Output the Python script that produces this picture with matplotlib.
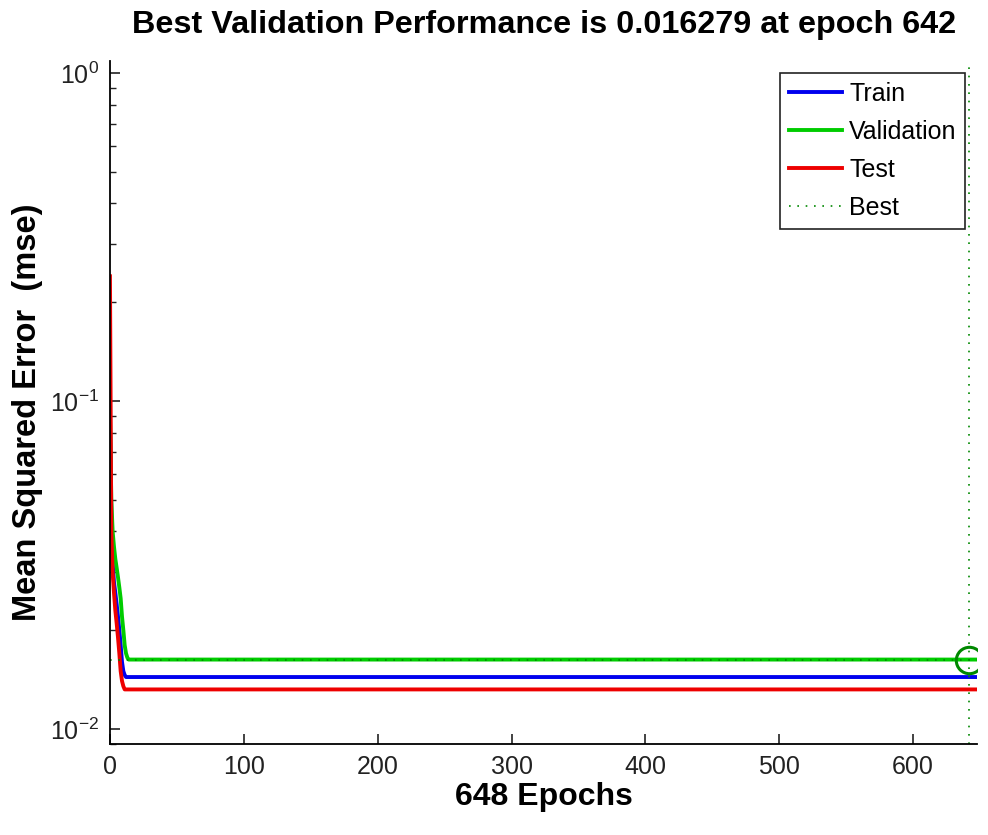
import matplotlib
matplotlib.use("Agg")
import matplotlib.pyplot as plt
from matplotlib.ticker import LogLocator, NullFormatter

plt.rcParams["font.family"] = ["Liberation Sans", "DejaVu Sans"]
plt.rcParams["mathtext.fontset"] = "custom"
plt.rcParams["mathtext.rm"] = "Liberation Sans"

# training record (epoch -> mse), flat after the first few epochs
train_epochs = [0, 1, 2, 3, 4, 5, 6, 7, 8, 9, 10, 11, 12, 648]
train_mse = [0.085, 0.045, 0.032, 0.028, 0.026, 0.024, 0.022, 0.020,
             0.018, 0.016, 0.015, 0.0146, 0.0144, 0.0144]

val_epochs = [0, 1, 2, 3, 4, 5, 6, 7, 8, 9, 10, 11, 12, 13, 14, 648]
val_mse = [0.093, 0.050, 0.040, 0.036, 0.033, 0.031, 0.029, 0.027,
           0.025, 0.022, 0.020, 0.018, 0.017, 0.0165, 0.016279, 0.016279]

test_epochs = [0, 1, 2, 3, 4, 5, 6, 7, 8, 9, 10, 11, 648]
test_mse = [0.24, 0.040, 0.030, 0.026, 0.023, 0.021, 0.019, 0.017,
            0.015, 0.014, 0.0135, 0.0132, 0.0132]

best_epoch = 642
best_perf = 0.016279
n_epochs = 648

BLUE = "#0000ee"
GREEN = "#00cc00"
RED = "#ee0000"
DARK_GREEN = "#008800"

fig = plt.figure(figsize=(9.88, 8.35), dpi=100)
ax = fig.add_axes([0.1113, 0.109, 0.878, 0.818])

ax.plot(train_epochs, train_mse, color=BLUE, lw=2.8, label="Train")
ax.plot(val_epochs, val_mse, color=GREEN, lw=2.8, label="Validation")
ax.plot(test_epochs, test_mse, color=RED, lw=2.8, label="Test")
ax.axvline(best_epoch, color=DARK_GREEN, ls=(0, (1, 4)), lw=1.2, label="Best")
ax.axhline(best_perf, color=DARK_GREEN, ls=(0, (1, 4)), lw=1.2)
ax.plot([best_epoch], [best_perf], "o", mfc="none", mec=DARK_GREEN,
        ms=19, mew=2.2)

ax.set_yscale("log")
ax.set_xlim(0, n_epochs)
ax.set_ylim(0.009, 1.088)
ax.set_xticks([0, 100, 200, 300, 400, 500, 600])
ax.yaxis.set_major_locator(LogLocator(base=10, numticks=5))
ax.yaxis.set_minor_locator(LogLocator(base=10, subs=range(2, 10), numticks=20))
ax.yaxis.set_minor_formatter(NullFormatter())

ax.spines[["top", "right"]].set_visible(False)
ax.spines["left"].set_linewidth(1.3)
ax.spines["bottom"].set_linewidth(1.3)
ax.tick_params(which="both", direction="in", colors="#222222", labelsize=18)
ax.tick_params(which="major", length=7, width=1.2, pad=8)
ax.tick_params(which="minor", length=4, width=1.0)

ax.set_title("Best Validation Performance is 0.016279 at epoch 642",
             fontsize=23.3, fontweight="bold", pad=20)
ax.set_xlabel("648 Epochs", fontsize=23, fontweight="bold", labelpad=2)
ax.set_ylabel("Mean Squared Error  (mse)", fontsize=23.5, fontweight="bold")
ax.yaxis.set_label_coords(-0.077, 0.485)

leg = ax.legend(loc="upper right", bbox_to_anchor=(0.986, 0.982),
                fontsize=18, frameon=True, fancybox=False, framealpha=1,
                edgecolor="#222222", handlelength=2.1, handletextpad=0.3,
                borderpad=0.35, labelspacing=0.56, borderaxespad=0)
leg.get_frame().set_linewidth(1.2)

fig.savefig("out.png", dpi=100, facecolor="white")
